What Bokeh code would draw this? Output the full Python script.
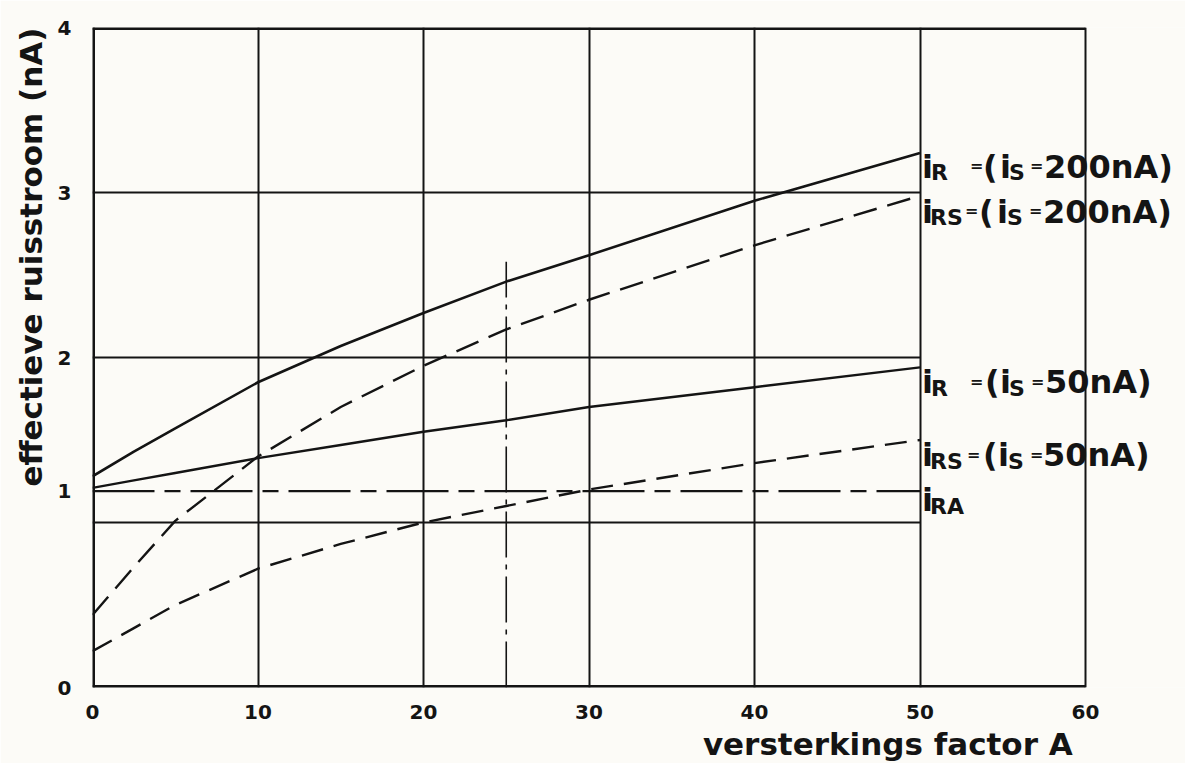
from bokeh.plotting import figure
from bokeh.models import ColumnDataSource, FixedTicker, Range1d, Title
from bokeh.core.properties import value
from bokeh.embed import file_html
from bokeh.resources import INLINE

# ---------------- data ----------------
amplification = [0, 2.5, 5, 10, 15, 20, 25, 30, 40, 50]
i_R_200 = [1.28, 1.43, 1.57, 1.85, 2.07, 2.27, 2.46, 2.62, 2.95, 3.24]
i_RS_200 = [0.44, 0.73, 1.01, 1.40, 1.70, 1.95, 2.17, 2.35, 2.68, 2.98]
i_R_50 = [1.21, 1.255, 1.30, 1.39, 1.47, 1.55, 1.62, 1.70, 1.82, 1.94]
i_RS_50 = [0.22, 0.36, 0.50, 0.72, 0.87, 1.00, 1.10, 1.20, 1.36, 1.50]
i_RA_level = 1.19
i_RA_span = [0, 50]

marker_A = 25
marker_top = 2.58

x_min, x_max = 0, 60
y_min, y_max = 0, 4
x_ticks = [0, 10, 20, 30, 40, 50, 60]
y_ticks = [0, 1.19, 2, 3, 4]
y_tick_labels = ["0", "1", "2", "3", "4"]
hgrid_levels = [1, 2, 3]
hgrid_end = 50

x_title = "versterkings  factor A"
y_title = "effectieve ruisstroom (nA)"

# right-hand labels: (anchor value at A=50, pieces: text, kind, x offset px)
label_anchor_x = 50
label_rows = [
    (3.24, [("i", "big", 2), ("R", "sub", 11), ("=", "eq", 50), ("(", "big", 63),
            ("i", "big", 80), ("S", "sub", 89), ("=", "eq", 110), ("200nA)", "big", 124)]),
    (2.98, [("i", "big", 2), ("RS", "sub", 10), ("=", "eq", 45), ("(", "big", 59),
            ("i", "big", 77), ("S", "sub", 87), ("=", "eq", 109), ("200nA)", "big", 123)]),
    (1.94, [("i", "big", 2), ("R", "sub", 11), ("=", "eq", 50), ("(", "big", 65),
            ("i", "big", 80), ("S", "sub", 89), ("=", "eq", 111), ("50nA)", "big", 125)]),
    (1.50, [("i", "big", 2), ("RS", "sub", 10), ("=", "eq", 47), ("(", "big", 63),
            ("i", "big", 78), ("S", "sub", 88), ("=", "eq", 110), ("50nA)", "big", 123)]),
    (1.19, [("i", "big", 2), ("RA", "sub", 10)]),
]
row_baseline_px = [14, 16, 15, 15, 9]

# ---------------- styles ----------------
INK = "#141414"
BG = "#fcfbf7"
FONT = "DejaVu Sans"
piece_size = {"big": "32px", "sub": "22px", "eq": "16px"}
piece_dy = {"big": 0, "sub": 6, "eq": -1}

W, H = 1185, 763
left_px, top_px, bottom_px = 92, 27, 75
px_per_unit = (1085 - left_px) / (x_max - x_min)
x_view_max = x_min + (W - left_px) / px_per_unit  # frame runs to the right edge

p = figure(width=W, height=H, x_range=Range1d(x_min, x_view_max), y_range=Range1d(y_min, y_max),
           output_backend="svg", toolbar_location=None,
           min_border_left=left_px, min_border_right=0, min_border_top=top_px,
           min_border_bottom=bottom_px)
p.background_fill_color = BG
p.border_fill_color = BG
p.outline_line_color = None

# axes
for ax in (p.xaxis, p.yaxis):
    ax.axis_line_color = None
    ax.major_tick_line_color = None
    ax.minor_tick_line_color = None
    ax.major_label_text_font = FONT
    ax.major_label_text_font_style = "bold"
    ax.major_label_text_font_size = "20px"
    ax.major_label_text_color = INK
p.xaxis.ticker = FixedTicker(ticks=x_ticks)
p.xaxis.major_label_standoff = 11
p.yaxis.ticker = FixedTicker(ticks=y_ticks)
p.yaxis.major_label_overrides = {t: s for t, s in zip(y_ticks, y_tick_labels)}
p.yaxis.major_label_standoff = 15

# grid (vertical lines incl. the right border at 60)
p.xgrid.ticker = FixedTicker(ticks=x_ticks[1:])
p.xgrid.grid_line_color = INK
p.xgrid.grid_line_width = 2
p.ygrid.visible = False
p.segment(x0=[x_min] * len(hgrid_levels), x1=[hgrid_end] * len(hgrid_levels),
          y0=hgrid_levels, y1=hgrid_levels, line_color=INK, line_width=2)

# box edges (left, bottom, top) of the drawing area
p.segment(x0=[x_min, x_min, x_min], x1=[x_min, x_max, x_max],
          y0=[y_min, y_min, y_max], y1=[y_max, y_min, y_max], line_color=INK, line_width=5)

# i_RA dash-dot line and marker at A=25
p.line(i_RA_span, [i_RA_level, i_RA_level], line_color=INK, line_width=2.2,
       line_dash="62 10 16 10")
p.line([marker_A, marker_A], [y_min, marker_top], line_color=INK, line_width=1.6,
       line_dash="46 7 5 7")

# curves
p.line(amplification, i_R_200, line_color=INK, line_width=2.6)
p.line(amplification, i_RS_200, line_color=INK, line_width=2.4, line_dash="24 11")
p.line(amplification, i_R_50, line_color=INK, line_width=2.4)
p.line(amplification, i_RS_50, line_color=INK, line_width=2.4, line_dash="22 11")

# right-hand labels
lx, ly, lt, lxo, lyo, lsz = [], [], [], [], [], []
for (anchor, pieces), base in zip(label_rows, row_baseline_px):
    for txt, kind, dx in pieces:
        lx.append(label_anchor_x)
        ly.append(anchor)
        lt.append(txt)
        lxo.append(dx)
        lyo.append(base + piece_dy[kind])
        lsz.append(piece_size[kind])
src = ColumnDataSource(dict(x=lx, y=ly, text=lt, xo=lxo, yo=lyo, sz=lsz))
p.text(x="x", y="y", text="text", x_offset="xo", y_offset="yo", source=src,
       text_font=value(FONT), text_font_style="bold", text_font_size="sz",
       text_color=INK, text_baseline="alphabetic", text_align="left")

# axis titles
p.add_layout(Title(text=x_title, align="right", offset=102, standoff=4, text_font=FONT,
                   text_font_style="bold", text_font_size="31px", text_color=INK), "below")
p.add_layout(Title(text=y_title, align="right", standoff=12, text_font=FONT,
                   text_font_style="bold", text_font_size="31px", text_color=INK), "left")

open("out.html", "w").write(file_html(p, INLINE))
